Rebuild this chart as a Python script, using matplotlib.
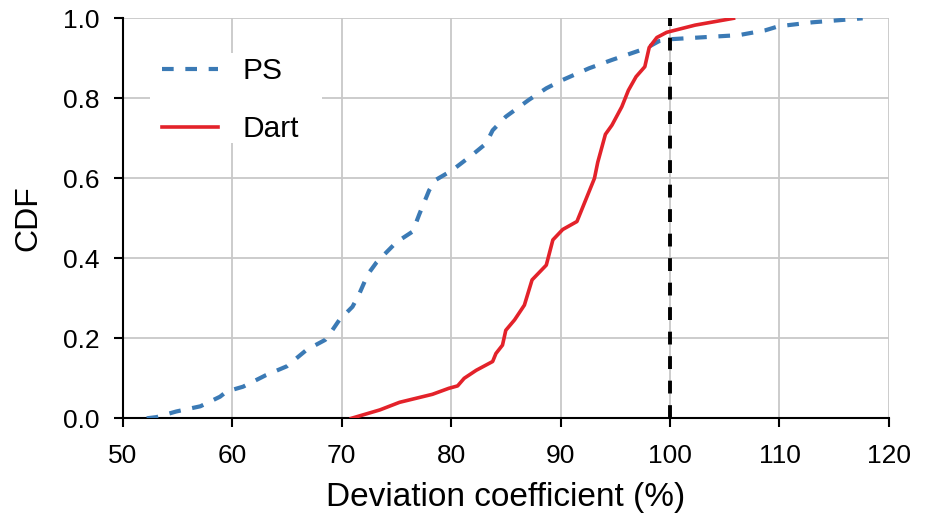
import matplotlib
matplotlib.use("Agg")
import matplotlib.pyplot as plt
from matplotlib.patches import Rectangle

plt.rcParams['font.family'] = ['Liberation Sans', 'DejaVu Sans']

# CDF
ps_x = [52.2, 53.1, 54.9, 57.1, 58.9, 59.5, 61.0, 63.1, 65.0, 66.8, 68.5, 68.9, 69.8,
        71.0, 71.6, 72.4, 73.2, 75.0, 76.5, 77.1, 78.0, 78.6, 80.1, 82.0, 83.2, 83.8,
        85.0, 87.1, 88.7, 90.2, 92.6, 94.7, 97.8, 99.0, 100.2, 106.3, 108.7, 109.9,
        113.0, 117.6]
ps_y = [0.0, 0.003, 0.017, 0.03, 0.054, 0.067, 0.079, 0.108, 0.13, 0.171, 0.196, 0.21,
        0.246, 0.279, 0.31, 0.36, 0.39, 0.44, 0.467, 0.51, 0.57, 0.596, 0.62, 0.66,
        0.687, 0.72, 0.754, 0.796, 0.825, 0.846, 0.875, 0.896, 0.925, 0.943, 0.948,
        0.958, 0.97, 0.98, 0.99, 1.0]

dart_x = [70.9, 73.5, 75.3, 78.3, 79.8, 80.6, 81.2, 82.3, 83.8, 84.1, 84.7, 85.0, 85.8,
          86.7, 87.4, 88.7, 89.3, 90.2, 91.5, 92.3, 93.1, 93.4, 94.1, 94.7, 95.6, 96.2,
          96.9, 97.7, 98.1, 98.8, 99.7, 102.3, 105.8]
dart_y = [0.0, 0.021, 0.04, 0.06, 0.075, 0.081, 0.1, 0.12, 0.142, 0.162, 0.183, 0.22,
          0.246, 0.283, 0.346, 0.383, 0.446, 0.472, 0.492, 0.546, 0.6, 0.64, 0.71,
          0.733, 0.779, 0.82, 0.854, 0.879, 0.927, 0.952, 0.965, 0.983, 1.0]

x_ticks = [50, 60, 70, 80, 90, 100, 110, 120]
y_ticks = [0.0, 0.2, 0.4, 0.6, 0.8, 1.0]
ref_x = 100


def main():
    fig = plt.figure(figsize=(9.26, 5.13), dpi=100)
    ax = fig.add_axes([0.1324, 0.1846, 0.8276, 0.7797])

    ax.plot(ps_x, ps_y, color='#3b7ab5', lw=3.0, ls=(0, (2.8, 2.8)), label="PS",
            zorder=3)
    ax.plot(dart_x, dart_y, color='#e3222a', lw=2.6, label="Dart", zorder=4)
    ax.axvline(ref_x, color='black', lw=2.8, ls=(0, (3.3, 3.0)), zorder=5)

    ax.set_xlim(50, 120)
    ax.set_ylim(0, 1)
    ax.set_xticks(x_ticks)
    ax.set_yticks(y_ticks)
    ax.set_yticklabels([f"{v:.1f}" for v in y_ticks])
    ax.grid(True, color='#c8c8c8', lw=1.3)
    ax.set_axisbelow(True)

    for s in ['top', 'right']:
        ax.spines[s].set_visible(False)
    for s in ['left', 'bottom']:
        ax.spines[s].set_linewidth(1.5)
        ax.spines[s].set_color('black')
    ax.tick_params(axis='both', labelsize=19, length=6.5, width=1.5, direction='out')
    ax.tick_params(axis='x', pad=12)
    ax.tick_params(axis='y', pad=10)

    ax.set_xlabel('Deviation coefficient (%)', fontsize=24, labelpad=10)
    ax.set_ylabel('CDF', fontsize=23, labelpad=14)

    # białe tło pod legendą (zasłania siatkę)
    ax.add_patch(Rectangle((0.036, 0.688), 0.224, 0.225, transform=ax.transAxes,
                           facecolor='white', edgecolor='none', zorder=1.5))
    ax.legend(loc='upper left', bbox_to_anchor=(0.051, 0.903), fontsize=21.5,
              frameon=False, handlelength=1.9, handletextpad=0.8,
              labelspacing=1.0, borderpad=0.0, borderaxespad=0.0)

    fig.savefig("out.png", dpi=100)


if __name__ == "__main__":
    main()
